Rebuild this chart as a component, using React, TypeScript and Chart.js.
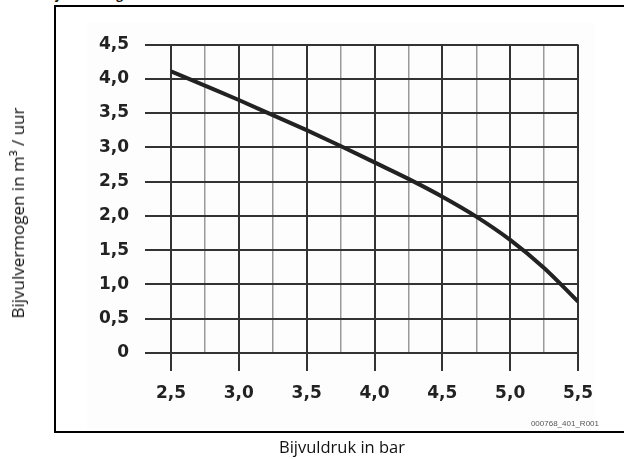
import React, { useEffect, useRef } from "react";
import { Chart, registerables } from "chart.js";

Chart.register(...registerables);

// ---- data ----
const pressureBar = [2.5, 2.75, 3.0, 3.25, 3.5, 3.75, 4.0, 4.25, 4.5, 4.75, 5.0, 5.25, 5.5];
const capacityM3h = [4.11, 3.9, 3.69, 3.47, 3.25, 3.02, 2.78, 2.54, 2.28, 1.99, 1.65, 1.24, 0.75];
const xMin = 2.5;
const xMax = 5.5;
const xStep = 0.25;
const yMin = 0;
const yMax = 4.5;
const yStep = 0.5;
const xAxisTitle = "Bijvuldruk in bar";
const yAxisTitle = "Bijvulvermogen in m³ / uur";
const chartTitle = "Bijvulvermogen";
const figureCode = "000768_401_R001";

const isMajor = (v: number) => Math.abs(v * 2 - Math.round(v * 2)) < 1e-6;
const fmt = (v: number) => (Math.abs(v) < 1e-9 ? "0" : v.toFixed(1).replace(".", ","));

const DARK = "#333333";
const MINOR = "#9a9a9a";

export default function App() {
  const canvasRef = useRef<HTMLCanvasElement | null>(null);

  useEffect(() => {
    if (!canvasRef.current) return;
    const chart = new Chart(canvasRef.current, {
      type: "line",
      data: {
        datasets: [
          {
            data: pressureBar.map((x, i) => ({ x, y: capacityM3h[i] })),
            borderColor: "#222222",
            borderWidth: 4,
            pointRadius: 0,
            cubicInterpolationMode: "monotone",
            fill: false,
          },
        ],
      },
      options: {
        animation: false,
        responsive: true,
        maintainAspectRatio: false,
        layout: { padding: { left: 0, right: 46, top: 44.5, bottom: 0 } },
        plugins: { legend: { display: false }, tooltip: { enabled: false }, title: { display: false } },
        scales: {
          x: {
            type: "linear",
            min: xMin,
            max: xMax,
            border: { display: false },
            grid: {
              color: (c: any) => (c.tick && !isMajor(c.tick.value) ? MINOR : DARK),
              lineWidth: (c: any) => (c.tick && !isMajor(c.tick.value) ? 1.5 : 2),
              tickColor: (c: any) => (c.tick && !isMajor(c.tick.value) ? "rgba(0,0,0,0)" : DARK),
              tickLength: 18,
              tickWidth: 2,
            },
            ticks: {
              stepSize: xStep,
              autoSkip: false,
              maxRotation: 0,
              minRotation: 0,
              padding: 12.5,
              color: "#222222",
              font: { family: "DejaVu Sans", weight: "bold", size: 17 },
              callback: (v: any) => (isMajor(Number(v)) ? fmt(Number(v)) : ""),
            },
            afterFit: (scale: any) => {
              scale.height = 106;
            },
          },
          y: {
            type: "linear",
            min: yMin,
            max: yMax,
            border: { display: false },
            grid: {
              color: DARK,
              lineWidth: 2,
              tickColor: DARK,
              tickLength: 26,
              tickWidth: 2,
            },
            ticks: {
              stepSize: yStep,
              padding: 16,
              color: "#222222",
              font: { family: "DejaVu Sans", weight: "bold", size: 17 },
              callback: (v: any) => fmt(Number(v)),
            },
            afterFit: (scale: any) => {
              scale.width = 171;
            },
          },
        },
      } as any,
    });
    return () => chart.destroy();
  }, []);

  return (
    <div
      style={{
        position: "fixed",
        left: 0,
        top: 0,
        width: 624,
        height: 459,
        overflow: "hidden",
        background: "#ffffff",
        fontFamily: "'Open Sans', sans-serif",
      }}
    >
      <div
        style={{
          position: "absolute",
          left: 44,
          top: -11,
          fontSize: 12,
          lineHeight: "12px",
          fontWeight: 700,
          color: "#111",
          whiteSpace: "nowrap",
        }}
      >
        {chartTitle}
      </div>
      <div style={{ position: "absolute", left: 87, top: 23, width: 508, height: 406, background: "#fdfdfd" }} />
      <div
        style={{
          position: "absolute",
          left: 54,
          top: 5,
          width: 570,
          height: 428,
          boxSizing: "border-box",
          borderTop: "2px solid #000",
          borderLeft: "2px solid #000",
          borderBottom: "2px solid #000",
        }}
      />
      <div style={{ position: "absolute", left: 0, top: 0, width: 624, height: 459 }}>
        <canvas ref={canvasRef} />
      </div>
      <div
        style={{
          position: "absolute",
          left: 18,
          top: 213,
          transform: "translate(-50%, -50%) rotate(-90deg)",
          fontSize: 17,
          lineHeight: "20px",
          color: "#111",
          whiteSpace: "nowrap",
        }}
      >
        {yAxisTitle}
      </div>
      <div
        style={{
          position: "absolute",
          left: 342,
          top: 447,
          transform: "translate(-50%, -50%)",
          fontSize: 16.5,
          lineHeight: "20px",
          color: "#111",
          whiteSpace: "nowrap",
        }}
      >
        {xAxisTitle}
      </div>
      <div
        style={{
          position: "absolute",
          right: 25,
          top: 419,
          fontFamily: "'Liberation Sans', Arial, sans-serif",
          fontSize: 8,
          lineHeight: "10px",
          color: "#555",
          whiteSpace: "nowrap",
        }}
      >
        {figureCode}
      </div>
    </div>
  );
}
